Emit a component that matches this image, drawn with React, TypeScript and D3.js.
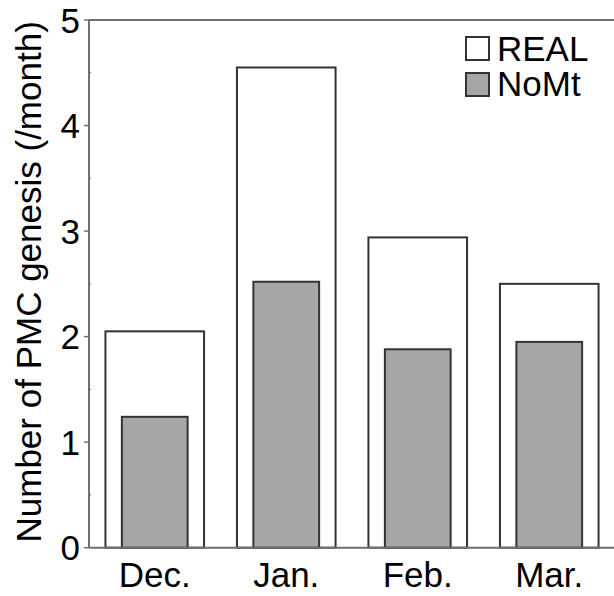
import React from "react";
import * as d3 from "d3";

const categories = ["Dec.", "Jan.", "Feb.", "Mar."];
const realValues = [2.05, 4.55, 2.94, 2.5];
const nomtValues = [1.24, 2.52, 1.88, 1.95];
const yTicks = [0, 1, 2, 3, 4, 5];
const yMinorTicks = [0.5, 1.5, 2.5, 3.5, 4.5];
const seriesNames = ["REAL", "NoMt"];

const W = 614;
const H = 596;
const left = 89;
const right = 615;
const top = 20;
const bottom = 547.7;
const FONT = "'Liberation Sans', Arial, sans-serif";
const AXIS = "#707070";
const EDGE = "#333333";
const GREY = "#a6a6a6";

export default function App() {
  const x = d3.scaleBand<string>().domain(categories).range([left, right]).padding(0);
  const y = d3.scaleLinear().domain([0, 5]).range([bottom, top]);
  const bw = x.bandwidth();
  const realW = bw * 0.75;
  const nomtW = bw * 0.5;

  return (
    <svg width={W} height={H} style={{ position: "absolute", left: 0, top: 0, display: "block" }}>
      <rect x={0} y={0} width={W} height={H} fill="#fff" />
      {categories.map((c, i) => {
        const cx = (x(c) as number) + bw / 2;
        return (
          <g key={c}>
            <rect x={cx - realW / 2} y={y(realValues[i])} width={realW} height={y(0) - y(realValues[i])}
              fill="#fff" stroke={EDGE} strokeWidth={2} />
            <rect x={cx - nomtW / 2} y={y(nomtValues[i])} width={nomtW} height={y(0) - y(nomtValues[i])}
              fill={GREY} stroke={EDGE} strokeWidth={2} />
            <text x={cx} y={587} textAnchor="middle" fontFamily={FONT} fontSize={35} fill="#000">{c}</text>
          </g>
        );
      })}
      {/* frame */}
      <line x1={left} y1={top} x2={right} y2={top} stroke={AXIS} strokeWidth={2} />
      <line x1={left} y1={bottom} x2={right} y2={bottom} stroke={AXIS} strokeWidth={2} />
      <line x1={left} y1={top} x2={left} y2={bottom} stroke={AXIS} strokeWidth={2} />
      {yTicks.map((t) => (
        <g key={t}>
          <line x1={left - 5} y1={y(t)} x2={left} y2={y(t)} stroke={AXIS} strokeWidth={1.5} />
          <text x={80} y={y(t)} dy="0.36em" textAnchor="end" fontFamily={FONT} fontSize={35} fill="#000">{t}</text>
        </g>
      ))}
      {yMinorTicks.map((t) => (
        <line key={t} x1={left - 1} y1={y(t)} x2={left + 2} y2={y(t)} stroke={AXIS} strokeWidth={1} />
      ))}
      <text transform={`translate(41,${(top + bottom) / 2 - 2}) rotate(-90)`} textAnchor="middle"
        fontFamily={FONT} fontSize={35} fill="#000">Number of PMC genesis (/month)</text>
      {/* legend */}
      <rect x={466} y={37} width={23} height={23} fill="#fff" stroke={EDGE} strokeWidth={2} />
      <text x={497} y={61} fontFamily={FONT} fontSize={35} fill="#000">{seriesNames[0]}</text>
      <rect x={466} y={73} width={23} height={23} fill={GREY} stroke={EDGE} strokeWidth={2} />
      <text x={497} y={96} fontFamily={FONT} fontSize={35} fill="#000">{seriesNames[1]}</text>
    </svg>
  );
}
